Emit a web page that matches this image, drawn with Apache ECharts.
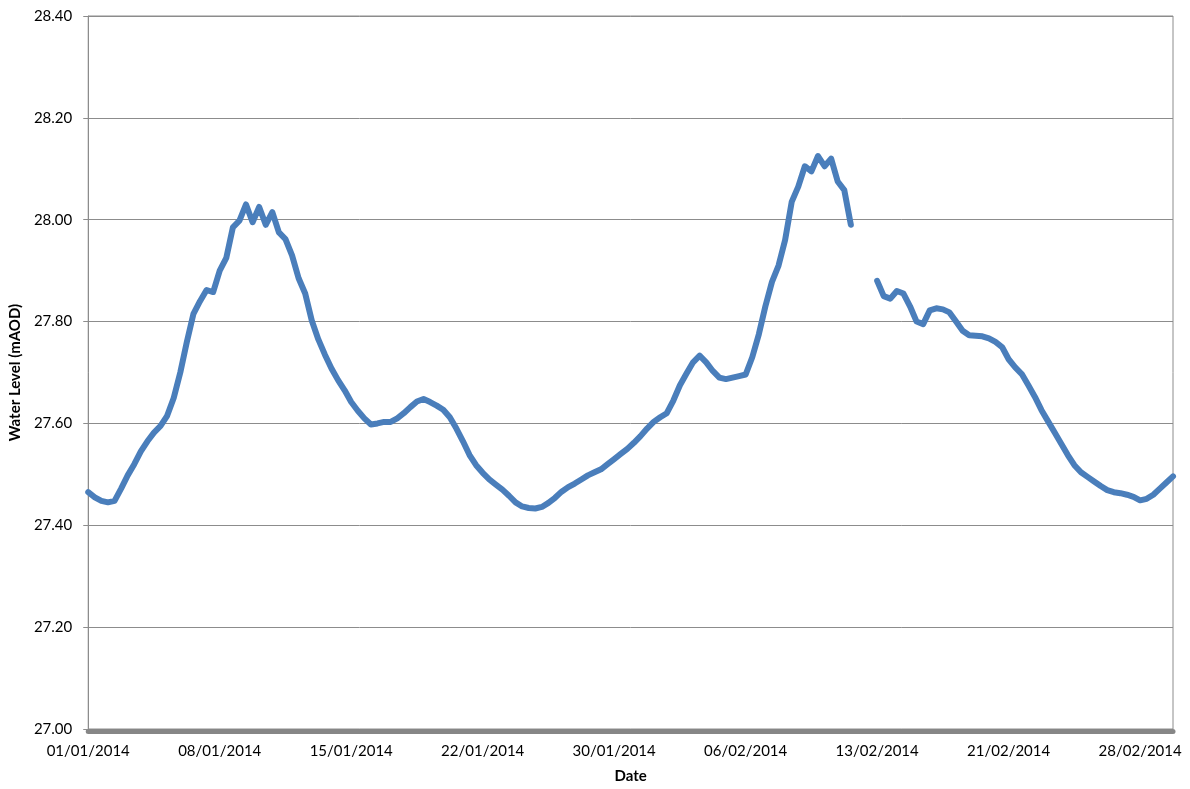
<!DOCTYPE html>
<html>
<head>
<meta charset="utf-8">
<script src="https://cdn.jsdelivr.net/npm/echarts@6/dist/echarts.min.js"></script>
<style>
html,body{margin:0;padding:0;background:#fff;}
#chart{width:1190px;height:789px;}
</style>
</head>
<body>
<div id="chart"></div>
<script>
// Tick labels shown every 20 samples along the category axis
var tickLabels = ['01/01/2014','08/01/2014','15/01/2014','22/01/2014','30/01/2014','06/02/2014','13/02/2014','21/02/2014','28/02/2014'];
var samplesPerLabel = 20;

// Water level (mAOD), one value per sample; null = data gap
var waterLevel = [
  27.465, 27.455, 27.448, 27.445, 27.448, 27.472, 27.498, 27.520, 27.545, 27.565,
  27.582, 27.595, 27.615, 27.650, 27.700, 27.760, 27.815, 27.840, 27.862, 27.858,
  27.900, 27.925, 27.985, 27.998, 28.030, 27.995, 28.025, 27.990, 28.015, 27.975,
  27.962, 27.930, 27.885, 27.855, 27.802, 27.765, 27.735, 27.708, 27.685, 27.665,
  27.642, 27.625, 27.610, 27.598, 27.600, 27.603, 27.603, 27.610, 27.620, 27.632,
  27.643, 27.648, 27.642, 27.635, 27.627, 27.612, 27.590, 27.565, 27.538, 27.518,
  27.503, 27.490, 27.480, 27.470, 27.458, 27.445, 27.437, 27.434, 27.433, 27.436,
  27.444, 27.454, 27.466, 27.475, 27.482, 27.490, 27.498, 27.504, 27.510, 27.520,
  27.530, 27.540, 27.550, 27.562, 27.575, 27.590, 27.603, 27.612, 27.620, 27.645,
  27.675, 27.698, 27.720, 27.733, 27.720, 27.703, 27.690, 27.687, 27.690, 27.693,
  27.696, 27.730, 27.775, 27.830, 27.878, 27.910, 27.960, 28.035, 28.065, 28.105,
  28.095, 28.125, 28.105, 28.120, 28.075, 28.058, 27.990, null, null, null,
  27.880, 27.850, 27.845, 27.860, 27.855, 27.830, 27.800, 27.795, 27.822, 27.826,
  27.824, 27.818, 27.800, 27.782, 27.773, 27.772, 27.771, 27.767, 27.760, 27.750,
  27.726, 27.710, 27.697, 27.675, 27.652, 27.626, 27.604, 27.582, 27.560, 27.538,
  27.518, 27.504, 27.495, 27.486, 27.477, 27.469, 27.465, 27.463, 27.460, 27.456,
  27.449, 27.452, 27.460, 27.472, 27.484, 27.496
];

var categories = waterLevel.map(function (_, i) { return 'S' + i; });

var chart = echarts.init(document.getElementById('chart'), null, {renderer: 'canvas'});
var font = 'Lato, "Open Sans", sans-serif';
chart.setOption({
  animation: false,
  backgroundColor: '#ffffff',
  grid: {left: 86, right: 17, top: 16, bottom: 57, show: true, borderColor: '#8c8c8c', borderWidth: 1},
  xAxis: {
    type: 'category',
    data: categories,
    boundaryGap: false,
    offset: 2,
    axisLine: {show: true, lineStyle: {color: '#868686', width: 5}},
    axisTick: {show: false},
    axisLabel: {
      interval: samplesPerLabel - 1,
      margin: 13,
      fontFamily: font, fontSize: 15, color: '#000',
      formatter: function (v, i) { return tickLabels[i / samplesPerLabel] || ''; }
    },
    splitLine: {show: false},
    name: 'Date', nameLocation: 'middle', nameGap: 38,
    nameTextStyle: {fontFamily: font, fontSize: 15, fontWeight: 'bold', color: '#000'}
  },
  yAxis: {
    type: 'value',
    min: 27.0, max: 28.4, interval: 0.2,
    axisLine: {show: true, lineStyle: {color: '#8c8c8c', width: 1}},
    axisTick: {show: true, length: 5, lineStyle: {color: '#8c8c8c'}},
    axisLabel: {margin: 16, fontFamily: font, fontSize: 15, color: '#000',
      formatter: function (v) { return v.toFixed(2); }},
    splitLine: {show: true, lineStyle: {color: '#8c8c8c', width: 1}},
    name: 'Water Level (mAOD)', nameLocation: 'middle', nameGap: 57,
    nameTextStyle: {fontFamily: font, fontSize: 15, fontWeight: 'bold', color: '#000'}
  },
  series: [{
    type: 'line',
    data: waterLevel,
    showSymbol: false,
    connectNulls: false,
    lineStyle: {color: '#4a7ebb', width: 6, join: 'round', cap: 'round'},
    itemStyle: {color: '#4a7ebb'}
  }]
});
</script>
</body>
</html>
